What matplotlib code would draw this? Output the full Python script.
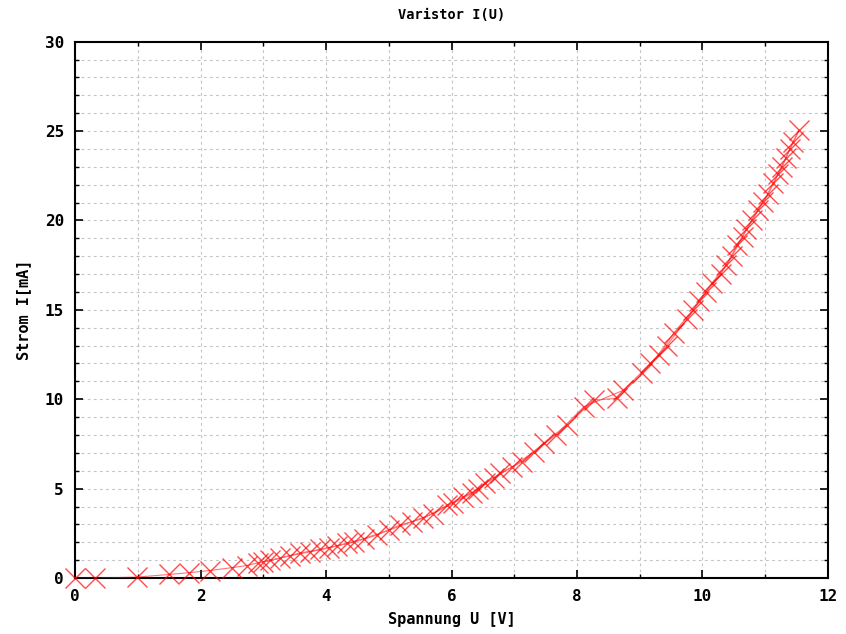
import matplotlib
matplotlib.use("Agg")
import matplotlib.pyplot as plt
from matplotlib.ticker import MultipleLocator

# up sweep (voltage in V, current in mA)
u_up = [0.0, 0.32, 0.98, 1.5, 1.82, 2.15, 2.5, 2.74, 2.92, 3.11, 3.43, 3.75,
        4.04, 4.33, 4.6, 5.0, 5.37, 5.71, 6.03, 6.33, 6.54, 6.78, 7.12, 7.47,
        7.84, 8.27, 8.64, 9.04, 9.3, 9.54, 9.85, 10.05, 10.29, 10.47, 10.64,
        10.79, 10.97, 11.13, 11.27, 11.39, 11.54]
i_up = [0.0, 0.0, 0.05, 0.2, 0.3, 0.42, 0.58, 0.7, 0.85, 0.98, 1.25, 1.47,
        1.68, 1.94, 2.2, 2.68, 3.15, 3.6, 4.2, 4.74, 5.3, 5.85, 6.5, 7.55,
        8.56, 9.95, 10.05, 11.45, 12.5, 13.7, 15.0, 16.0, 17.0, 18.0, 19.1,
        20.0, 21.05, 22.07, 23.0, 24.0, 25.05]

# down sweep
u_down = [11.45, 11.33, 11.2, 11.05, 10.88, 10.7, 10.55, 10.38, 10.15, 9.95,
          9.76, 9.43, 9.17, 8.74, 8.11, 7.66, 7.31, 6.96, 6.67, 6.43, 6.19,
          5.93, 5.55, 5.18, 4.81, 4.44, 4.17, 3.91, 3.59, 3.27, 3.0]
i_down = [24.4, 23.5, 22.6, 21.5, 20.6, 19.5, 18.6, 17.5, 16.5, 15.5,
          14.5, 13.0, 12.0, 10.5, 9.58, 8.0, 7.06, 6.2, 5.6, 5.0, 4.55,
          4.08, 3.34, 2.96, 2.4, 2.0, 1.8, 1.6, 1.4, 1.12, 0.9]

font = "DejaVu Sans Mono"

fig = plt.figure(figsize=(8.46, 6.34), dpi=100)
ax = fig.add_axes([0.0887, 0.0883, 0.89, 0.846])

u = u_up + u_down
i = i_up + i_down
ax.plot(u, i, color="red", lw=0.8, alpha=0.55, zorder=3)
ax.plot(u, i, ls="none", marker="x", ms=14, mew=1.0, color="red", alpha=0.7,
        zorder=4, clip_on=False)

ax.set_xlim(0, 12)
ax.set_ylim(0, 30)
ax.xaxis.set_major_locator(MultipleLocator(2))
ax.xaxis.set_minor_locator(MultipleLocator(1))
ax.yaxis.set_major_locator(MultipleLocator(5))
ax.yaxis.set_minor_locator(MultipleLocator(1))

ax.grid(True, which="both", color="#c4c4c4", ls=(0, (2.5, 3)), lw=0.8, zorder=0)
ax.tick_params(which="both", direction="in", top=True, right=True, color="black")
ax.tick_params(which="major", length=6, width=1.2, pad=8)
ax.tick_params(which="minor", length=3, width=1.0)

for s in ax.spines.values():
    s.set_linewidth(1.5)

for lab in ax.get_xticklabels() + ax.get_yticklabels():
    lab.set_fontfamily(font)
    lab.set_fontweight("bold")
    lab.set_fontsize(11.5)

ax.set_title("Varistor I(U)", fontfamily=font, fontweight="bold", fontsize=9.8, pad=16)
ax.set_xlabel("Spannung U [V]", fontfamily=font, fontweight="bold", fontsize=11, labelpad=6)
ax.set_ylabel("Strom I[mA]", fontfamily=font, fontweight="bold", fontsize=11, labelpad=10)

fig.savefig("out.png", dpi=100)
